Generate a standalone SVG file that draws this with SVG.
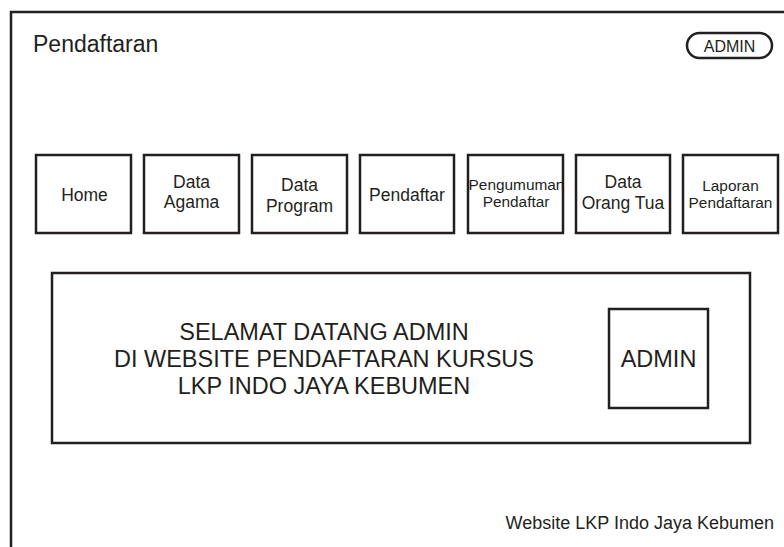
<svg xmlns="http://www.w3.org/2000/svg" width="784" height="547" viewBox="0 0 784 547">
<style>
.b{fill:#fff;stroke:#231f20;stroke-width:2.5}
.t{font-family:"Liberation Sans",Arial,sans-serif;fill:#231f20;text-anchor:middle}
.m{font-size:17.5px}
.s{font-size:15.4px}
.l{font-size:23.5px}
</style>
<rect width="784" height="547" fill="#fff"/>
<g id="frame"><path d="M11 560 V12 H790" fill="none" stroke="#231f20" stroke-width="2.5"/></g>
<g id="title"><text x="33" y="52" class="t" style="text-anchor:start" font-size="23">Pendaftaran</text></g>
<g id="admin-pill"><rect x="687" y="33" width="85" height="25" rx="12.5" class="b"/><text x="729.5" y="51.5" class="t" font-size="16">ADMIN</text></g>
<g id="home"><rect x="36" y="155" width="95" height="78" class="b"/><text x="84.5" y="201" class="t m">Home</text></g>
<g id="data-agama"><rect x="144" y="155" width="95" height="78" class="b"/><text class="t m"><tspan x="191.5" y="188">Data</tspan><tspan x="191.5" y="208">Agama</tspan></text></g>
<g id="data-program"><rect x="252" y="155" width="95" height="78" class="b"/><text class="t m"><tspan x="299.5" y="191">Data</tspan><tspan x="299.5" y="212">Program</tspan></text></g>
<g id="pendaftar"><rect x="360" y="155" width="94" height="78" class="b"/><text x="407" y="201" class="t m">Pendaftar</text></g>
<g id="pengumuman"><rect x="468" y="155" width="95" height="78" class="b"/><text class="t s"><tspan x="516.5" y="190">Pengumuman</tspan><tspan x="516" y="207">Pendaftar</tspan></text></g>
<g id="data-orang-tua"><rect x="576" y="155" width="94" height="78" class="b"/><text class="t m"><tspan x="623" y="188">Data</tspan><tspan x="623" y="209">Orang Tua</tspan></text></g>
<g id="laporan"><rect x="683" y="155" width="95" height="78" class="b"/><text class="t s"><tspan x="730.5" y="191">Laporan</tspan><tspan x="730.5" y="208">Pendaftaran</tspan></text></g>
<g id="welcome"><rect x="52" y="273" width="698" height="170" class="b"/><text class="t l"><tspan x="324" y="340">SELAMAT DATANG ADMIN</tspan><tspan x="324" y="367">DI WEBSITE PENDAFTARAN KURSUS</tspan><tspan x="324" y="394">LKP INDO JAYA KEBUMEN</tspan></text></g>
<g id="admin-box"><rect x="609" y="309" width="99" height="99" class="b"/><text x="658.5" y="367" class="t l">ADMIN</text></g>
<g id="footer"><text x="774" y="529" class="t" style="text-anchor:end" font-size="18">Website LKP Indo Jaya Kebumen</text></g>
<g id="connectors"/>
</svg>
